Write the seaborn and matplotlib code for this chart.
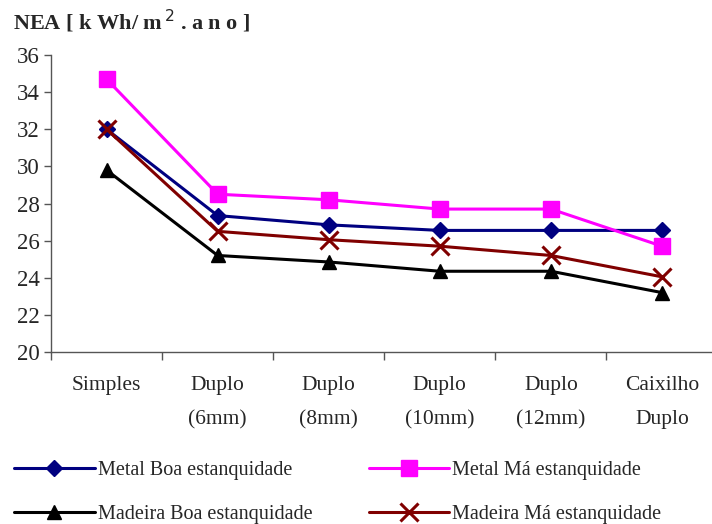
import matplotlib
matplotlib.use("Agg")
import matplotlib.pyplot as plt
import seaborn as sns
import pandas as pd
from matplotlib.ticker import FixedLocator, NullFormatter

sns.set_theme(style="white")
plt.rcParams["font.family"] = ["Liberation Serif", "DejaVu Serif"]

categories = ["Simples", "Duplo\n(6mm)", "Duplo\n(8mm)", "Duplo\n(10mm)", "Duplo\n(12mm)", "Caixilho\nDuplo"]
metal_boa = [32.0, 27.35, 26.85, 26.55, 26.55, 26.55]
metal_ma = [34.7, 28.5, 28.2, 27.7, 27.7, 25.7]
madeira_boa = [29.8, 25.2, 24.85, 24.35, 24.35, 23.2]
madeira_ma = [32.0, 26.5, 26.05, 25.7, 25.2, 24.05]
series_names = ["Metal Boa estanquidade", "Metal Má estanquidade",
                "Madeira Boa estanquidade", "Madeira Má estanquidade"]
y_ticks = [20, 22, 24, 26, 28, 30, 32, 34, 36]

series = [metal_boa, metal_ma, madeira_boa, madeira_ma]
colors = ["#000080", "#FF00FF", "#000000", "#800000"]
markers = ["D", "s", "^", "x"]
msizes = [8, 12, 10, 13]

fig = plt.figure(figsize=(7.12, 5.24), dpi=100)
ax = fig.add_axes([51 / 712, 172 / 524, 1 - 51 / 712, 297 / 524])

handles = []
for name, vals, c, m, ms in zip(series_names, series, colors, markers, msizes):
    df = pd.DataFrame({"x": range(len(categories)), "y": vals})
    sns.lineplot(data=df, x="x", y="y", ax=ax, color=c, marker=m, markersize=ms,
                 markeredgecolor=c, markerfacecolor=c, markeredgewidth=2.2 if m == "x" else 1,
                 linewidth=2.2, label=name, legend=False)
    handles.append(ax.lines[-1])

ax.set_ylim(20, 36)
ax.set_xlim(-0.5, 5.45)
ax.set_yticks(y_ticks)
ax.set_yticklabels([str(t) for t in y_ticks], fontsize=16.5)
ax.set_xticks(range(len(categories)))
ax.set_xticklabels(categories, fontsize=15.5, linespacing=2.1)
ax.xaxis.set_minor_locator(FixedLocator([-0.5, 0.5, 1.5, 2.5, 3.5, 4.5]))
ax.xaxis.set_minor_formatter(NullFormatter())
ax.tick_params(axis="x", which="major", length=0, pad=17)
ax.tick_params(axis="x", which="minor", length=6, width=1, color="#555555", direction="out", bottom=True)
ax.tick_params(axis="y", length=5, width=1, color="#555555", direction="out", left=True, pad=3)
ax.set_xlabel("")
ax.set_ylabel("")
for side in ["top", "right"]:
    ax.spines[side].set_visible(False)
for side in ["left", "bottom"]:
    ax.spines[side].set_color("#555555")
    ax.spines[side].set_linewidth(1)

fig.text(13 / 712, 1 - 21 / 524, "NEA [ k Wh/ m$^{\\,2}$ . a n o ]", fontsize=16,
         fontweight="bold", va="center", ha="left")

# legend filled column-wise, so order the entries to read row by row
order = [0, 2, 1, 3]
leg = fig.legend(handles=[handles[i] for i in order], labels=[series_names[i] for i in order],
                 loc="lower left", bbox_to_anchor=(-4 / 712, -0.034), ncol=2, frameon=False,
                 fontsize=14.5, handlelength=4, handletextpad=0.15,
                 columnspacing=2.8, labelspacing=1.2)

fig.savefig("out.png", dpi=100)
